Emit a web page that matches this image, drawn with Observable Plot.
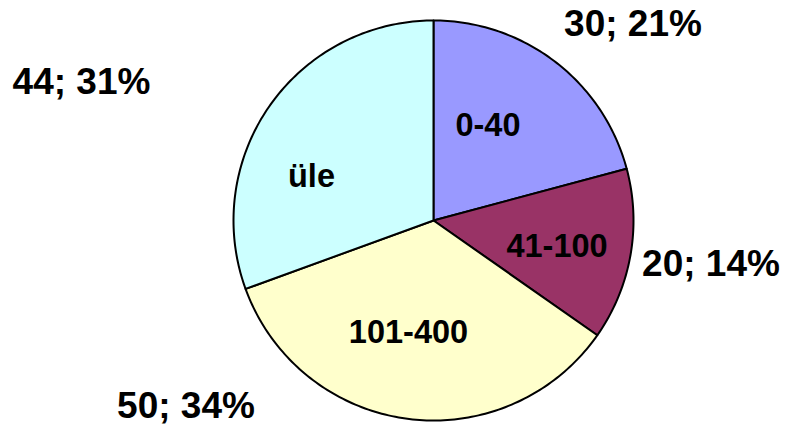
<!DOCTYPE html>
<html>
<head>
<meta charset="utf-8">
<script src="https://cdn.jsdelivr.net/npm/d3@7"></script>
<script src="https://cdn.jsdelivr.net/npm/@observablehq/plot@0.6"></script>
<style>
  html, body { margin: 0; padding: 0; background: #fff; }
  #chart svg { display: block; }
</style>
</head>
<body>
<div id="chart"></div>
<script>
// ---- data ----
const categories = ["0-40", "41-100", "101-400", "üle 400"];
const innerLabels = ["0-40", "41-100", "101-400", "üle"];
const values = [30, 20, 50, 44];
const percents = ["21%", "14%", "34%", "31%"];
const colors = ["#9999FF", "#993366", "#FFFFCC", "#CCFFFF"];

// ---- layout (label anchors, in unit-radius pie coordinates) ----
const outerPos = [[0.9975, 0.98], [1.3875, -0.22], [-1.2375, -0.93], [-1.76, 0.6925]];
const innerPos = [[0.2725, 0.4725], [0.6175, -0.13], [-0.125, -0.56], [-0.61, 0.22]];

const total = d3.sum(values);
const slices = [];
let acc = 0;
values.forEach((v, i) => {
  const a0 = acc / total * 2 * Math.PI;
  acc += v;
  const a1 = acc / total * 2 * Math.PI;
  const pts = [{x: 0, y: 0}];
  const n = Math.max(2, Math.ceil((a1 - a0) / (Math.PI / 180)));
  for (let k = 0; k <= n; k++) {
    const a = a0 + (a1 - a0) * k / n;
    pts.push({x: Math.sin(a), y: Math.cos(a)});
  }
  pts.push({x: 0, y: 0});
  slices.push({cat: categories[i], color: colors[i], pts});
});

const outerLabels = values.map((v, i) => ({x: outerPos[i][0], y: outerPos[i][1], t: `${v}; ${percents[i]}`}));
const inner = innerLabels.map((t, i) => ({x: innerPos[i][0], y: innerPos[i][1], t}));

const chart = Plot.plot({
  width: 786,
  height: 427,
  margin: 0,
  style: {background: "#fff", overflow: "visible"},
  x: {domain: [-1, 1], range: [233, 633], axis: null},
  y: {domain: [-1, 1], range: [420, 20], axis: null},
  marks: [
    ...slices.map(s => Plot.line(s.pts, {x: "x", y: "y", fill: s.color, stroke: "black", strokeWidth: 2, strokeLinejoin: "round", curve: "linear"})),
    Plot.text(inner, {x: "x", y: "y", text: "t", fontSize: 32.5, fontWeight: "bold", fontFamily: "Liberation Sans, Arial, sans-serif", fill: "black", lineAnchor: "middle"}),
    Plot.text(outerLabels, {x: "x", y: "y", text: "t", fontSize: 37, fontWeight: "bold", fontFamily: "Liberation Sans, Arial, sans-serif", fill: "black", lineAnchor: "middle"})
  ]
});
document.getElementById("chart").appendChild(chart);
</script>
</body>
</html>
